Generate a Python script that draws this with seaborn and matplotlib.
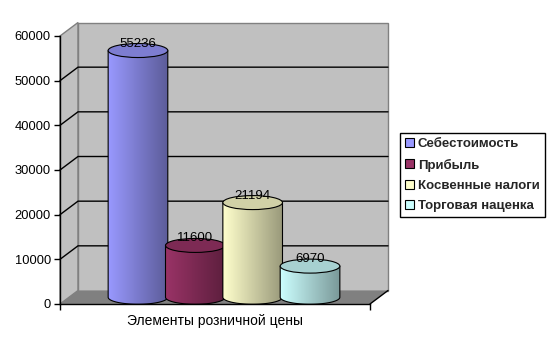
import numpy as np
import pandas as pd
import matplotlib
matplotlib.use('Agg')
import matplotlib.pyplot as plt
import seaborn as sns
from matplotlib.patches import Polygon, Ellipse, PathPatch, Patch
from matplotlib.path import Path
from matplotlib.colors import to_rgb

# ---- data ----
category = ["Элементы розничной цены"]
series = ["Себестоимость", "Прибыль", "Косвенные налоги", "Торговая наценка"]
values = [55236, 11600, 21194, 6970]
colors = ["#9999FF", "#993366", "#FFFFCC", "#CCFFFF"]
yticks = [0, 10000, 20000, 30000, 40000, 50000, 60000]

sns.set_theme(style='white')
plt.rcParams['font.family'] = ['Liberation Sans', 'DejaVu Sans']

W, H = 553, 355
fig = plt.figure(figsize=(W / 100, H / 100), dpi=100)
fig.patch.set_facecolor('white')
ax = fig.add_axes([60 / W, (H - 304) / H, 310 / W, 268 / H])
ax.patch.set_alpha(0)

df = pd.DataFrame({'element': category * len(series), 'series': series, 'value': values})
sns.barplot(data=df, x='element', y='value', hue='series', hue_order=series,
            palette=colors, width=0.74, saturation=1, errorbar=None,
            legend=False, ax=ax)

ymax = yticks[-1]
ax.set_xlim(-0.5, 0.5)
ax.set_ylim(0, ymax)
ux = 1.0 / 310
uy = ymax / 268.0
dx, dy = 18 * ux, 13.5 * uy
x0, x1 = -0.5, 0.5

# walls and floor
side = Polygon([(x0, 0), (x0, ymax), (x0 + dx, ymax + dy), (x0 + dx, dy)], closed=True,
               facecolor='#C0C0C0', edgecolor='#808080', lw=1, zorder=0.1, clip_on=False)
back = Polygon([(x0 + dx, dy), (x0 + dx, ymax + dy), (x1 + dx, ymax + dy), (x1 + dx, dy)], closed=True,
               facecolor='#C0C0C0', edgecolor='#808080', lw=1, zorder=0.1, clip_on=False)
floor = Polygon([(x0, 0), (x1, 0), (x1 + dx, dy), (x0 + dx, dy)], closed=True,
                facecolor='#808080', edgecolor='none', zorder=0.2, clip_on=False)
for p in (side, back, floor):
    ax.add_patch(p)
for v in yticks[1:-1]:
    ax.plot([x0, x0 + dx, x1 + dx], [v, v + dy, v + dy], color='black', lw=1, zorder=0.3, clip_on=False)
ax.plot([x1, x1 + dx], [0, dy], color='black', lw=1, zorder=0.3, clip_on=False)

# cylinders from the seaborn bars
bars = sorted([p for p in ax.patches if hasattr(p, 'get_width') and p.get_height() > 0 and p not in (side, back, floor)],
              key=lambda p: p.get_x())
b = 7 * uy
for i, (bar, v, c) in enumerate(zip(bars, values, colors)):
    w = bar.get_width()
    cx = bar.get_x() + w / 2 + dx / 2
    h = bar.get_height()
    bar.set_visible(False)
    base = dy / 2
    top = h + dy / 2
    a = w / 2 * 1.04
    z = 2 + i
    t = np.linspace(np.pi, 2 * np.pi, 60)
    verts = [(cx - a, top), (cx - a, base)] + [(cx + a * np.cos(tt), base + b * np.sin(tt)) for tt in t] + \
            [(cx + a, top), (cx - a, top)]
    codes = [Path.MOVETO] + [Path.LINETO] * (len(verts) - 2) + [Path.CLOSEPOLY]
    path = Path(verts, codes)
    body = PathPatch(path, facecolor='none', edgecolor='black', lw=0.8, zorder=z + 0.01, clip_on=False)
    ax.add_patch(body)
    rgb = np.array(to_rgb(c))
    f = np.linspace(1.0, 0.6, 120)
    grad = rgb[None, :] * f[:, None]
    im = ax.imshow(grad[None, :, :], extent=[cx - a, cx + a, base - b, top], aspect='auto',
                   origin='lower', interpolation='bilinear', zorder=z)
    im.set_clip_path(body)
    im.set_clip_box(fig.bbox)
    topc = tuple(rgb * 0.82)
    ax.add_patch(Ellipse((cx, top), 2 * a, 2 * b, facecolor=topc, edgecolor='black', lw=0.8,
                         zorder=z + 0.02, clip_on=False))
    ax.text(cx, top + b, str(v), ha='center', va='center', fontsize=9.5, color='black',
            zorder=z + 0.03, clip_on=False)

ax.set_aspect('auto')
ax.set_xlim(-0.5, 0.5)
ax.set_ylim(0, ymax)

# axes styling
for s in ('top', 'right'):
    ax.spines[s].set_visible(False)
for s in ('left', 'bottom'):
    ax.spines[s].set_color('black')
    ax.spines[s].set_linewidth(1)
    ax.spines[s].set_zorder(10)
ax.set_yticks(yticks)
ax.set_yticklabels([str(v) for v in yticks])
ax.tick_params(axis='y', direction='out', length=4, width=1, color='black', pad=2.5,
               labelsize=9.3, labelcolor='black', left=True)
ax.tick_params(axis='x', which='major', length=0, pad=7, labelsize=10, labelcolor='black')
ax.set_xticks([-0.5, 0.5], minor=True)
ax.tick_params(axis='x', which='minor', direction='out', length=4, width=1, color='black', bottom=True)
ax.set_xlabel('')
ax.set_ylabel('')

# legend
handles = [Patch(facecolor=c, edgecolor='black', lw=0.8) for c in colors]
leg = fig.legend(handles, series, loc='upper left', bbox_to_anchor=(400 / W, (H - 133) / H),
                 bbox_transform=fig.transFigure, frameon=True, fancybox=False, framealpha=1,
                 edgecolor='black', prop={'size': 9.5, 'weight': 'bold'}, handlelength=0.65,
                 handleheight=0.65, handletextpad=0.3, borderpad=0.4, labelspacing=0.62,
                 borderaxespad=0)
leg.get_frame().set_linewidth(1)

fig.savefig('out.png', dpi=100)
